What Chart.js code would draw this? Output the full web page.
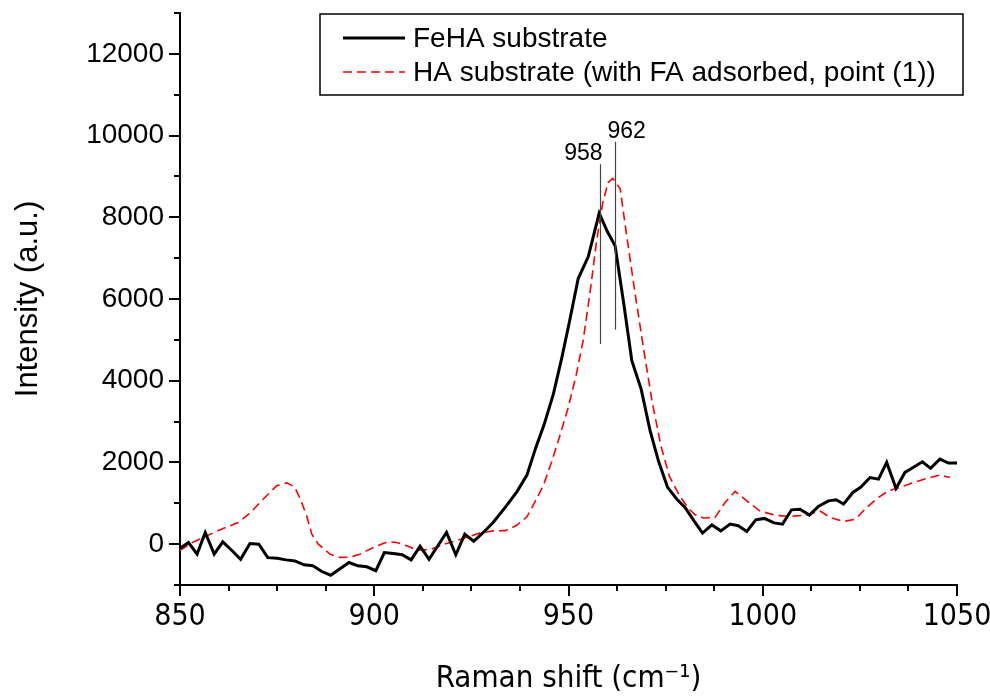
<!DOCTYPE html>
<html>
<head>
<meta charset="utf-8">
<script src="https://cdn.jsdelivr.net/npm/chart.js@4/dist/chart.umd.min.js"></script>
<style>
  html, body { margin: 0; padding: 0; background: #fff; }
  #wrap { width: 990px; height: 700px; }
</style>
</head>
<body>
<div id="wrap"><canvas id="chart" width="990" height="700"></canvas></div>
<script>
// FeHA substrate (black solid)
const fehaShift = [850.0, 852.2, 854.4, 856.5, 858.8, 861.0, 863.3, 865.6, 868.0, 870.3,
  872.6, 875.0, 877.3, 879.6, 881.9, 884.2, 886.5, 888.8, 891.1, 893.5,
  895.8, 898.1, 900.4, 902.6, 904.9, 907.2, 909.5, 911.8, 914.1, 918.6,
  921.0, 923.3, 925.6, 928.0, 930.6, 933.7, 936.7, 939.3, 941.5, 943.7,
  946.1, 948.2, 950.2, 952.5, 955.1, 957.9, 960.0, 962.0, 964.2, 966.3,
  968.7, 971.0, 973.2, 975.5, 977.9, 980.0, 982.3, 984.5, 986.9, 989.2,
  991.6, 993.7, 995.9, 998.2, 1000.4, 1002.9, 1005.1, 1007.4, 1009.6, 1012.0,
  1014.3, 1016.9, 1018.9, 1020.8, 1023.2, 1025.2, 1027.6, 1029.8, 1031.9, 1034.3,
  1036.6, 1038.8, 1041.1, 1043.2, 1045.6, 1047.8, 1050.0];
const fehaIntensity = [-100, 40, -245, 285, -245, 55, -150, -370, 15, 0,
  -330, -345, -385, -410, -505, -530, -670, -760, -610, -450,
  -530, -555, -650, -205, -230, -260, -385, -50, -370, 285,
  -260, 245, 70, 280, 530, 900, 1280, 1690, 2340, 2920,
  3670, 4530, 5425, 6500, 7040, 8100, 7650, 7300, 5900, 4490,
  3795, 2780, 2020, 1390, 1100, 900, 570, 270, 470, 325,
  490, 450, 310, 595, 630, 520, 490, 840, 855, 710,
  920, 1060, 1085, 980, 1265, 1390, 1630, 1590, 2000, 1365,
  1755, 1880, 2015, 1855, 2080, 1985, 1985];

// HA substrate with FA adsorbed (red dashed)
const haShift = [850.0, 853.0, 856.9, 861.1, 865.0, 868.0, 871.4, 874.9, 877.5, 879.5,
  881.0, 882.6, 883.9, 885.6, 888.6, 891.2, 893.8, 896.3, 899.8, 903.5,
  905.8, 908.4, 911.0, 914.4, 918.6, 922.9, 927.2, 930.6, 933.7, 936.7,
  939.3, 941.3, 943.5, 945.6, 947.6, 949.8, 951.9, 953.8, 955.6, 957.2,
  958.8, 960.2, 961.4, 963.3, 964.9, 967.1, 969.3, 971.5, 973.8, 976.0,
  978.5, 980.8, 982.6, 984.7, 987.7, 990.3, 992.9, 995.9, 999.3, 1003.6,
  1007.0, 1011.3, 1014.7, 1017.3, 1020.8, 1023.8, 1026.8, 1029.8, 1032.4, 1035.4,
  1038.8, 1042.3, 1045.6, 1048.2];
const haIntensity = [-150, 30, 205, 385, 530, 760, 1100, 1430, 1500, 1400,
  1100, 695, 250, 0, -245, -325, -320, -245, -80, 60,
  40, -40, -150, -130, 15, 140, 270, 325, 330, 460,
  670, 1020, 1430, 2000, 2600, 3300, 4100, 5000, 6200, 7400,
  8350, 8850, 8950, 8700, 7600, 6160, 4800, 3500, 2400, 1650,
  1200, 880, 720, 640, 650, 1020, 1290, 1060, 810, 700,
  680, 710, 815, 655, 555, 610, 900, 1145, 1305, 1390,
  1510, 1610, 1690, 1630];

// peak markers: position, bottom and top of the marker line (intensity units)
const peakPositions = [958, 962];
const peakLineLow = [4900, 5250];
const peakLineHigh = [9300, 9850];

const seriesLabels = ['FeHA substrate', 'HA substrate (with FA adsorbed, point (1))'];

const toPoints = (xs, ys) => xs.map((x, i) => ({ x: x, y: ys[i] }));

const tickMarks = {
  id: 'tickMarks',
  afterDraw(chart) {
    const { ctx, scales: { x, y } } = chart;
    ctx.save();
    ctx.strokeStyle = '#000';
    ctx.lineWidth = 2;
    ctx.beginPath();
    x.ticks.forEach(t => {
      const px = Math.round(x.getPixelForValue(t.value));
      const len = t.value % 50 === 0 ? 11 : 6;
      ctx.moveTo(px, x.top);
      ctx.lineTo(px, x.top + len);
    });
    y.ticks.forEach(t => {
      const py = Math.round(y.getPixelForValue(t.value));
      const len = t.value % 2000 === 0 ? 11 : 6;
      ctx.moveTo(y.right, py);
      ctx.lineTo(y.right - len, py);
    });
    ctx.stroke();
    ctx.restore();
  }
};

const peakNotes = {
  id: 'peakNotes',
  afterDatasetsDraw(chart) {
    const { ctx, scales: { x, y } } = chart;
    ctx.save();
    ctx.strokeStyle = '#444';
    ctx.lineWidth = 1.2;
    ctx.fillStyle = '#000';
    ctx.font = '23px "Liberation Sans", Arial, sans-serif';
    ctx.textBaseline = 'bottom';
    peakPositions.forEach((p, i) => {
      const px = Math.round(x.getPixelForValue(p)) + 0.5;
      const top = y.getPixelForValue(peakLineHigh[i]);
      ctx.beginPath();
      ctx.moveTo(px, top);
      ctx.lineTo(px, y.getPixelForValue(peakLineLow[i]));
      ctx.stroke();
      ctx.textAlign = i === 0 ? 'right' : 'left';
      ctx.fillText(String(p), px + (i === 0 ? 2 : -8), top + 1);
    });
    ctx.restore();
  }
};

const boxLegend = {
  id: 'boxLegend',
  afterDraw(chart) {
    const { ctx } = chart;
    const bx = 320, by = 14, bw = 643, bh = 81;
    ctx.save();
    ctx.fillStyle = '#fff';
    ctx.fillRect(bx, by, bw, bh);
    ctx.strokeStyle = '#000';
    ctx.lineWidth = 1.5;
    ctx.strokeRect(bx, by, bw, bh);
    ctx.font = '28px "Liberation Sans", Arial, sans-serif';
    ctx.textBaseline = 'middle';
    ctx.textAlign = 'left';
    chart.data.datasets.forEach((ds, i) => {
      const cy = by + 24 + i * 34;
      ctx.strokeStyle = ds.borderColor;
      ctx.lineWidth = ds.borderWidth;
      ctx.setLineDash(ds.borderDash || []);
      ctx.beginPath();
      ctx.moveTo(bx + 23, cy);
      ctx.lineTo(bx + 85, cy);
      ctx.stroke();
      ctx.setLineDash([]);
      ctx.fillStyle = '#000';
      ctx.fillText(seriesLabels[i], bx + 93, cy + 1);
    });
    ctx.restore();
  }
};

new Chart(document.getElementById('chart'), {
  type: 'line',
  data: {
    datasets: [{
      label: seriesLabels[0],
      data: toPoints(fehaShift, fehaIntensity),
      borderColor: '#000',
      borderWidth: 3,
      pointRadius: 0,
      tension: 0,
      fill: false
    }, {
      label: seriesLabels[1],
      data: toPoints(haShift, haIntensity),
      borderColor: '#ff0000',
      borderWidth: 1.6,
      borderDash: [9, 5],
      pointRadius: 0,
      tension: 0,
      fill: false
    }]
  },
  options: {
    responsive: false,
    animation: false,
    layout: { padding: { top: 13, right: 33, left: 0, bottom: 0 } },
    plugins: {
      legend: { display: false },
      tooltip: { enabled: false }
    },
    scales: {
      x: {
        type: 'linear',
        min: 850,
        max: 1050,
        afterFit: s => { s.height = 115; s.paddingLeft = 0; s.paddingRight = 0; },
        grid: { display: false, drawTicks: false },
        border: { display: true, color: '#000', width: 2 },
        ticks: {
          stepSize: 12.5,
          autoSkip: false,
          maxRotation: 0,
          padding: 14,
          color: '#000',
          font: { family: '"Liberation Sans Narrow", "DejaVu Sans Condensed", sans-serif', size: 30 },
          callback: v => (v % 50 === 0 ? String(v) : '')
        },
        title: {
          display: true,
          text: 'Raman shift (cm\u207B\u00B9)',
          color: '#000',
          font: { family: '"Liberation Sans Narrow", "DejaVu Sans Condensed", sans-serif', size: 31 },
          padding: { top: 0, bottom: 2 }
        }
      },
      y: {
        min: -1000,
        max: 13000,
        afterFit: s => { s.width = 180; s.paddingTop = 0; s.paddingBottom = 0; },
        grid: { display: false, drawTicks: false },
        border: { display: true, color: '#000', width: 2 },
        ticks: {
          stepSize: 1000,
          autoSkip: false,
          padding: 16,
          color: '#000',
          font: { family: '"Liberation Sans", Arial, sans-serif', size: 28 },
          callback: v => (v % 2000 === 0 && v >= 0 ? String(v) : '')
        },
        title: {
          display: true,
          text: 'Intensity (a.u.)',
          color: '#000',
          font: { family: '"Liberation Sans", Arial, sans-serif', size: 31 },
          padding: { top: 10, bottom: 0 }
        }
      }
    }
  },
  plugins: [tickMarks, peakNotes, boxLegend]
});
</script>
</body>
</html>
